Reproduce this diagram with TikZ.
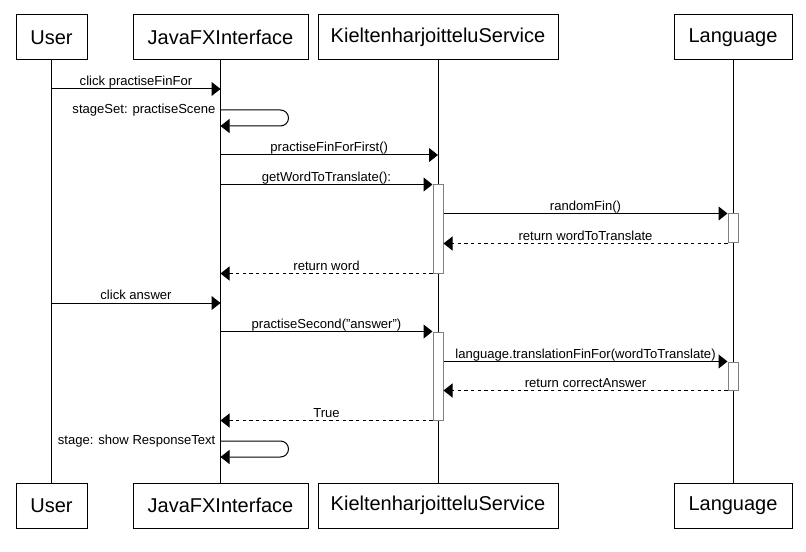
\documentclass[tikz,border=0pt]{standalone}
\usepackage{fontspec}
\setmainfont{Liberation Sans}
\usetikzlibrary{arrows.meta, calc, positioning}

\tikzset{
  head/.style={draw, line width=0.75pt, minimum height=33.75pt, inner sep=0pt, font=\fontsize{15}{18}\selectfont},
  act/.style={draw=black!50, fill=white, line width=0.75pt, minimum width=7.5pt, inner sep=0pt},
  msg/.style={line width=0.75pt, -{Triangle[length=6.75pt, width=10.5pt]}},
  ret/.style={msg, dash pattern=on 2.5pt off 2.5pt},
  lbl/.style={font=\fontsize{9.8}{11}\selectfont, inner sep=0pt, anchor=base, yshift=2.6pt},
  selflbl/.style={font=\fontsize{9.8}{11}\selectfont, anchor=east, inner sep=3.5pt}
}

\begin{document}
\begin{tikzpicture}[x=0.75pt, y=-0.75pt]
\useasboundingbox (0,0) rectangle (806,552);

% Participants, top and bottom
\foreach \n/\x/\w/\t in {user/51.5/53.25/User, java/220.5/131.25/JavaFXInterface, serv/438/180/KieltenharjoitteluService, lang/733/88.5/Language} {
    \node[head, minimum width=\w pt] (\n-top) at (\x,37.5) {\t};
    \node[head, minimum width=\w pt] (\n-bot) at (\x,505.5) {\t};
}

% Lifelines
\foreach \n in {user, java, serv, lang} {
    \draw[line width=0.75pt] (\n-top) -- (\n-bot);
}

% Activations
\node[act, minimum height=66pt] (act1) at (438,229) {};
\node[act, minimum height=21.75pt] (act2) at (733,228.5) {};
\node[act, minimum height=66pt] (act3) at (438,376) {};
\node[act, minimum height=21pt] (act4) at (733,376) {};

% Messages
\draw[msg] (user-top |- 0,89) -- node[lbl] {click practiseFinFor} (java-top |- 0,89);
\draw[msg, rounded corners=6pt] (java-top |- 0,110) node[selflbl] {stageSet: practiseScene} -- ++(68,0) -- ++(0,16) -- (java-top |- 0,126);
\draw[msg] (java-top |- 0,155) -- node[lbl] {practiseFinForFirst()} (serv-top |- 0,155);
\draw[msg] (java-top |- act1.north) -- node[lbl] {getWordToTranslate():} (act1.north west);
\draw[msg] (act1.north east |- act2.north) -- node[lbl] {randomFin()} (act2.north west);
\draw[ret] (act2.south west) -- node[lbl] {return wordToTranslate} (act1.east |- act2.south);
\draw[ret] (act1.south west) -- node[lbl] {return word} (java-top |- act1.south);
\draw[msg] (user-top |- 0,303) -- node[lbl] {click answer} (java-top |- 0,303);
\draw[msg] (java-top |- act3.north) -- node[lbl] {practiseSecond("answer")} (act3.north west);
\draw[msg] (act3.north east |- act4.north) -- node[lbl] {language.translationFinFor(wordToTranslate)} (act4.north west);
\draw[ret] (act4.south west) -- node[lbl] {return correctAnswer} (act3.east |- act4.south);
\draw[ret] (act3.south west) -- node[lbl] {True} (java-top |- act3.south);
\draw[msg, rounded corners=6pt] (java-top |- 0,441) node[selflbl] {stage: show ResponseText} -- ++(68,0) -- ++(0,16) -- (java-top |- 0,457);
\end{tikzpicture}
\end{document}
